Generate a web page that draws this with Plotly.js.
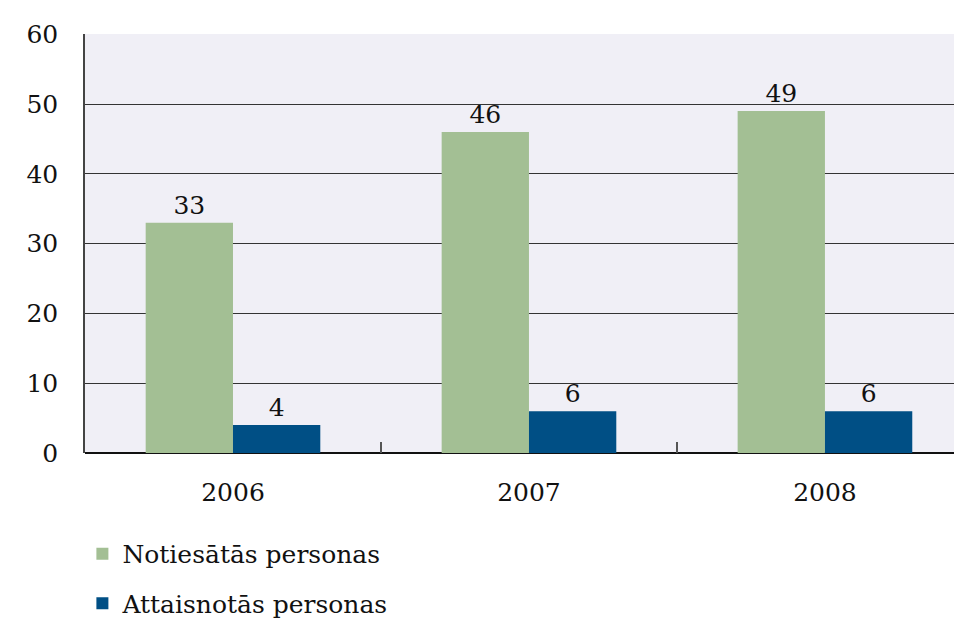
<!DOCTYPE html>
<html><head><meta charset="utf-8">
<script src="https://cdn.plot.ly/plotly-3.0.1.min.js"></script>
<style>body{margin:0;background:#fff}#c{width:954px;height:620px}</style>
</head><body><div id="c"></div>
<script>
const years = ['2006','2007','2008'];
const convicted = [33,46,49];
const acquitted = [4,6,6];
const seriesNames = ['Notiesātās personas','Attaisnotās personas'];
const yTicks = [0,10,20,30,40,50,60];

const font = 'DejaVu Serif';
const traces = [
  {type:'bar', x:years, y:convicted, name:seriesNames[0], legendgroup:'a', marker:{color:'#a3bf94'},
   text:convicted.map(String), textposition:'outside', cliponaxis:false,
   textfont:{family:font,size:25,color:'#111'}},
  {type:'bar', x:years, y:acquitted, name:seriesNames[1], legendgroup:'b', marker:{color:'#004f85'},
   text:acquitted.map(String), textposition:'outside', cliponaxis:false,
   textfont:{family:font,size:25,color:'#111'}}
];
const layout = {
  width:954, height:620,
  margin:{l:85,r:0,t:34,b:167,autoexpand:false},
  paper_bgcolor:'#ffffff', plot_bgcolor:'#f0eff6',
  font:{family:font,size:25,color:'#111'},
  barmode:'group', bargap:0.41, bargroupgap:0,
  showlegend:true,
  legend:{orientation:'v', x:-0.003, xanchor:'left', y:-0.186, yanchor:'top',
          font:{family:font,size:25,color:'#111'}, tracegroupgap:14, itemwidth:30,
          bgcolor:'rgba(0,0,0,0)'},
  xaxis:{type:'category', range:[-0.5,2.436], tickson:'boundaries', ticks:'inside',
         ticklen:11, tickcolor:'#555', tickwidth:1.5, showgrid:false, showline:false,
         ticklabelstandoff:22, tickfont:{family:font,size:25,color:'#111'}},
  yaxis:{range:[0,60.05], tickvals:yTicks, ticktext:yTicks.map(String), showgrid:true,
         gridcolor:'#333', gridwidth:1.3, zeroline:true, zerolinecolor:'#111', zerolinewidth:2,
         showline:true, linecolor:'#444', linewidth:1.5, ticks:'', ticklabelstandoff:20,
         tickfont:{family:font,size:25,color:'#111'}}
};
Plotly.newPlot('c', traces, layout, {displayModeBar:false});
</script></body></html>
